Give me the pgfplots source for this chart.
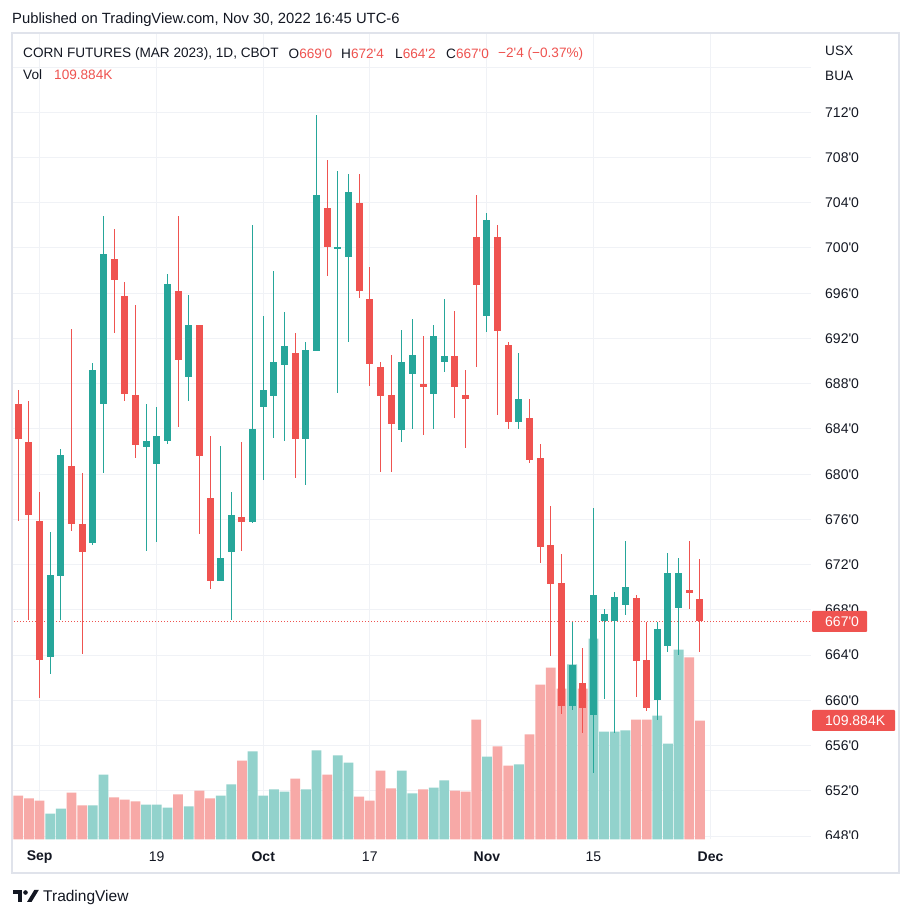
\documentclass[border=0pt]{standalone}
\usepackage{pgfplots}
\pgfplotsset{compat=1.18}
\usepackage{pgfplotstable}
\usepackage{fontspec}
\newfontfamily\tv{Liberation Sans}
\definecolor{cup}{HTML}{26A69A}
\definecolor{cdn}{HTML}{EF5350}
\definecolor{vup}{HTML}{92D2CC}
\definecolor{vdn}{HTML}{F7A9A7}
\definecolor{gridc}{HTML}{F0F2F6}
\definecolor{framec}{HTML}{E0E3EB}
\definecolor{txt}{HTML}{131722}

% daily candles, i = trading day index (0 = Aug 30), volume v in thousands
\pgfplotstableread{
i  o      h      l      c      v
0  686.2  687.45 675.9  683.1  40.6
1  682.9  686.5  667.1  676.4  37.9
2  675.9  678.4  660.2  663.6  36.0
3  663.8  674.9  662.3  671.1  24.0
4  671.0  682.2  667.1  681.7  28.6
5  680.7  692.8  675.0  675.6  43.4
6  675.6  680.1  664.1  673.1  31.4
7  673.9  689.8  673.7  689.2  31.4
8  686.2  702.8  680.1  699.5  60.0
9  699.0  701.7  692.5  697.2  38.8
10 695.8  697.0  686.5  687.1  36.9
11 687.0  695.0  681.4  682.6  35.1
12 682.4  686.2  673.2  682.9  32.3
13 680.9  685.9  674.0  683.4  32.3
14 682.9  697.7  682.7  696.8  29.5
15 696.2  702.8  684.2  690.1  41.6
16 688.6  695.8  686.5  693.2  30.5
17 693.2  693.2  674.7  681.6  45.2
18 677.9  683.4  669.9  670.6  37.9
19 670.6  682.5  670.6  672.6  40.6
20 673.1  678.4  667.1  676.4  50.8
21 676.2  682.9  673.2  675.8  72.9
22 675.8  702.0  675.7  684.0  81.3
23 685.9  694.0  679.5  687.4  40.6
24 686.9  698.0  683.2  689.9  46.2
25 689.7  694.3  682.9  691.3  44.3
26 690.7  692.5  679.7  683.1  56.3
27 683.1  691.7  679.0  691.0  46.2
28 690.9  711.8  690.9  704.7  82.2
29 703.5  707.8  697.5  700.1  60.0
30 700.0  706.8  687.2  700.1  77.6
31 699.2  706.5  691.7  705.0  71.1
32 704.0  706.5  695.6  696.2  39.7
33 695.5  698.3  687.8  689.7  36.0
34 689.5  689.9  680.2  686.9  63.7
35 687.0  690.5  680.2  684.4  47.1
36 683.9  692.8  682.9  689.9  63.7
37 688.9  693.7  684.0  690.5  42.5
38 688.0  692.2  683.5  687.7  46.2
39 687.1  693.2  684.0  692.2  48.0
40 689.9  695.5  689.0  690.5  54.5
41 690.5  694.4  685.0  687.7  45.2
42 687.0  689.2  682.3  686.7  44.3
43 701.0  704.7  689.5  696.7  110.8
44 694.0  703.1  692.6  702.5  76.6
45 701.0  702.0  685.2  692.7  85.9
46 691.4  691.7  684.0  684.6  68.3
47 684.6  690.7  684.0  686.7  69.3
48 685.0  686.7  681.0  681.3  97.0
49 681.4  682.7  672.2  673.6  143.1
50 673.7  677.2  663.9  670.3  158.8
51 670.4  672.9  658.8  659.5  139.4
52 659.5  666.9  659.2  663.1  161.6
53 661.55 664.6  657.1  659.3  139.4
54 658.75 677.0  653.6  669.3  185.6
55 667.0  668.1  660.1  667.6  99.7
56 667.0  669.6  657.1  669.1  99.7
57 668.45 674.1  667.6  670.0  100.7
58 669.1  669.3  660.3  663.5  110.8
59 663.6  666.9  659.1  659.3  110.8
60 660.0  666.9  658.3  666.3  114.5
61 664.8  673.0  664.3  671.3  88.6
62 668.2  672.6  664.05 671.3  175.4
63 669.8  674.1  668.1  669.5  168.1
64 669.0  672.5  664.25 667.0  109.884
}\candles

\begin{document}
\begin{tikzpicture}[x=1pt,y=1pt]
\fill[white] (0,0) rectangle (912,918);
\begin{axis}[
  at={(11pt,78.5pt)}, anchor=south west, scale only axis,
  width=800pt, height=806.5pt,
  xmin=-0.685, xmax=74.43, ymin=647.70, ymax=719.01,
  axis line style={draw=none},
  major tick length=0pt,
  xtick={2,13,23,33,44,54,65},
  xticklabels={\textbf{Sep},19,\textbf{Oct},17,\textbf{Nov},15,\textbf{Dec}},
  ytick={648,652,...,716},
  yticklabels={648'0,652'0,656'0,660'0,664'0,668'0,672'0,676'0,680'0,684'0,688'0,692'0,696'0,700'0,704'0,708'0,712'0,{}},
  yticklabel pos=right,
  grid=major, major grid style={draw=gridc, line width=1pt},
  ticklabel style={font=\tv\fontsize{14}{16}\selectfont, text=txt},
  yticklabel style={anchor=west, inner sep=0pt, xshift=14pt},
  xticklabel style={anchor=center, inner sep=0pt, yshift=-17.5pt},
  clip=true,
  candle/.style={draw=none, mark=none,
    error bars/.cd, y dir=both, y explicit, error mark=none},
]
% volume, scaled into the price pane
\addplot[ybar, bar width=9.8pt, bar shift=0pt, fill=vup, draw=none,
  restrict expr to domain={\thisrow{c}-\thisrow{o}}{0:1000}]
  table[x=i, y expr=647.70+0.09575*\thisrow{v}]{\candles};
\addplot[ybar, bar width=9.8pt, bar shift=0pt, fill=vdn, draw=none,
  restrict expr to domain={\thisrow{c}-\thisrow{o}}{-1000:-0.001}]
  table[x=i, y expr=647.70+0.09575*\thisrow{v}]{\candles};
% last price line
\addplot[cdn, line width=1pt, dash pattern=on 1pt off 2pt] coordinates {(-0.685,667) (74.43,667)};
% wicks
\addplot[restrict expr to domain={\thisrow{c}-\thisrow{o}}{0:1000},
  candle, error bar style={draw=cup, line width=1pt}]
  table[x=i, y expr=(\thisrow{h}+\thisrow{l})/2, y error expr=(\thisrow{h}-\thisrow{l})/2]{\candles};
\addplot[restrict expr to domain={\thisrow{c}-\thisrow{o}}{-1000:-0.001},
  candle, error bar style={draw=cdn, line width=1pt}]
  table[x=i, y expr=(\thisrow{h}+\thisrow{l})/2, y error expr=(\thisrow{h}-\thisrow{l})/2]{\candles};
% bodies
\addplot[restrict expr to domain={\thisrow{c}-\thisrow{o}}{0:1000},
  candle, error bar style={draw=cup, line width=7pt}]
  table[x=i, y expr=(\thisrow{o}+\thisrow{c})/2, y error expr=abs(\thisrow{c}-\thisrow{o})/2]{\candles};
\addplot[restrict expr to domain={\thisrow{c}-\thisrow{o}}{-1000:-0.001},
  candle, error bar style={draw=cdn, line width=7pt}]
  table[x=i, y expr=(\thisrow{o}+\thisrow{c})/2, y error expr=abs(\thisrow{c}-\thisrow{o})/2]{\candles};
\end{axis}

% clip the lowest price label at the pane edge
\fill[white] (812,46) rectangle (897.5,78.5);

% price scale markers
\fill[cdn, rounded corners=1pt] (812,286) rectangle (867,307);
\node[anchor=west, inner sep=0pt, text=white, font=\tv\fontsize{14}{16}\selectfont] at (825,296.5) {667'0};
\fill[cdn, rounded corners=1pt] (812,187) rectangle (895,208);
\node[anchor=west, inner sep=0pt, text=white, font=\tv\fontsize{14}{16}\selectfont] at (825,197.5) {109.884K};

% pane frame
\draw[framec, line width=1.5pt] (12,45) rectangle (899,885);

% header texts
\node[anchor=west, inner sep=0pt, text=txt, font=\tv\fontsize{14.8}{17}\selectfont] at (12,898) {Published on TradingView.com, Nov 30, 2022 16:45 UTC-6};
\begin{scope}[every node/.style={anchor=west, inner sep=0pt, text=txt, font=\tv\fontsize{13.6}{16}\selectfont}]
\node at (23,864) {CORN FUTURES (MAR 2023), 1D, CBOT};
\node at (288.5,864) {O\textcolor{cdn}{669'0}};
\node at (341,864) {H\textcolor{cdn}{672'4}};
\node at (395,864) {L\textcolor{cdn}{664'2}};
\node at (446,864) {C\textcolor{cdn}{667'0}};
\node at (498,864) {\textcolor{cdn}{−2'4 (−0.37\%)}};
\node at (23,843) {Vol};
\node at (54,843) {\textcolor{cdn}{109.884K}};
\node at (825,867) {USX};
\node at (825,842) {BUA};
\end{scope}

% footer logo and name
\fill[txt] (13,28) rectangle (22,23.5);
\fill[txt] (17.5,28) rectangle (22,16);
\fill[txt] (25.5,25.5) circle (2.3);
\fill[txt] (27,16) -- (31.5,16) -- (38.8,28) -- (34.3,28) -- cycle;
\node[anchor=west, inner sep=0pt, text=txt, font=\tv\fontsize{15.5}{18}\selectfont] at (43,21) {TradingView};
\end{tikzpicture}
\end{document}
